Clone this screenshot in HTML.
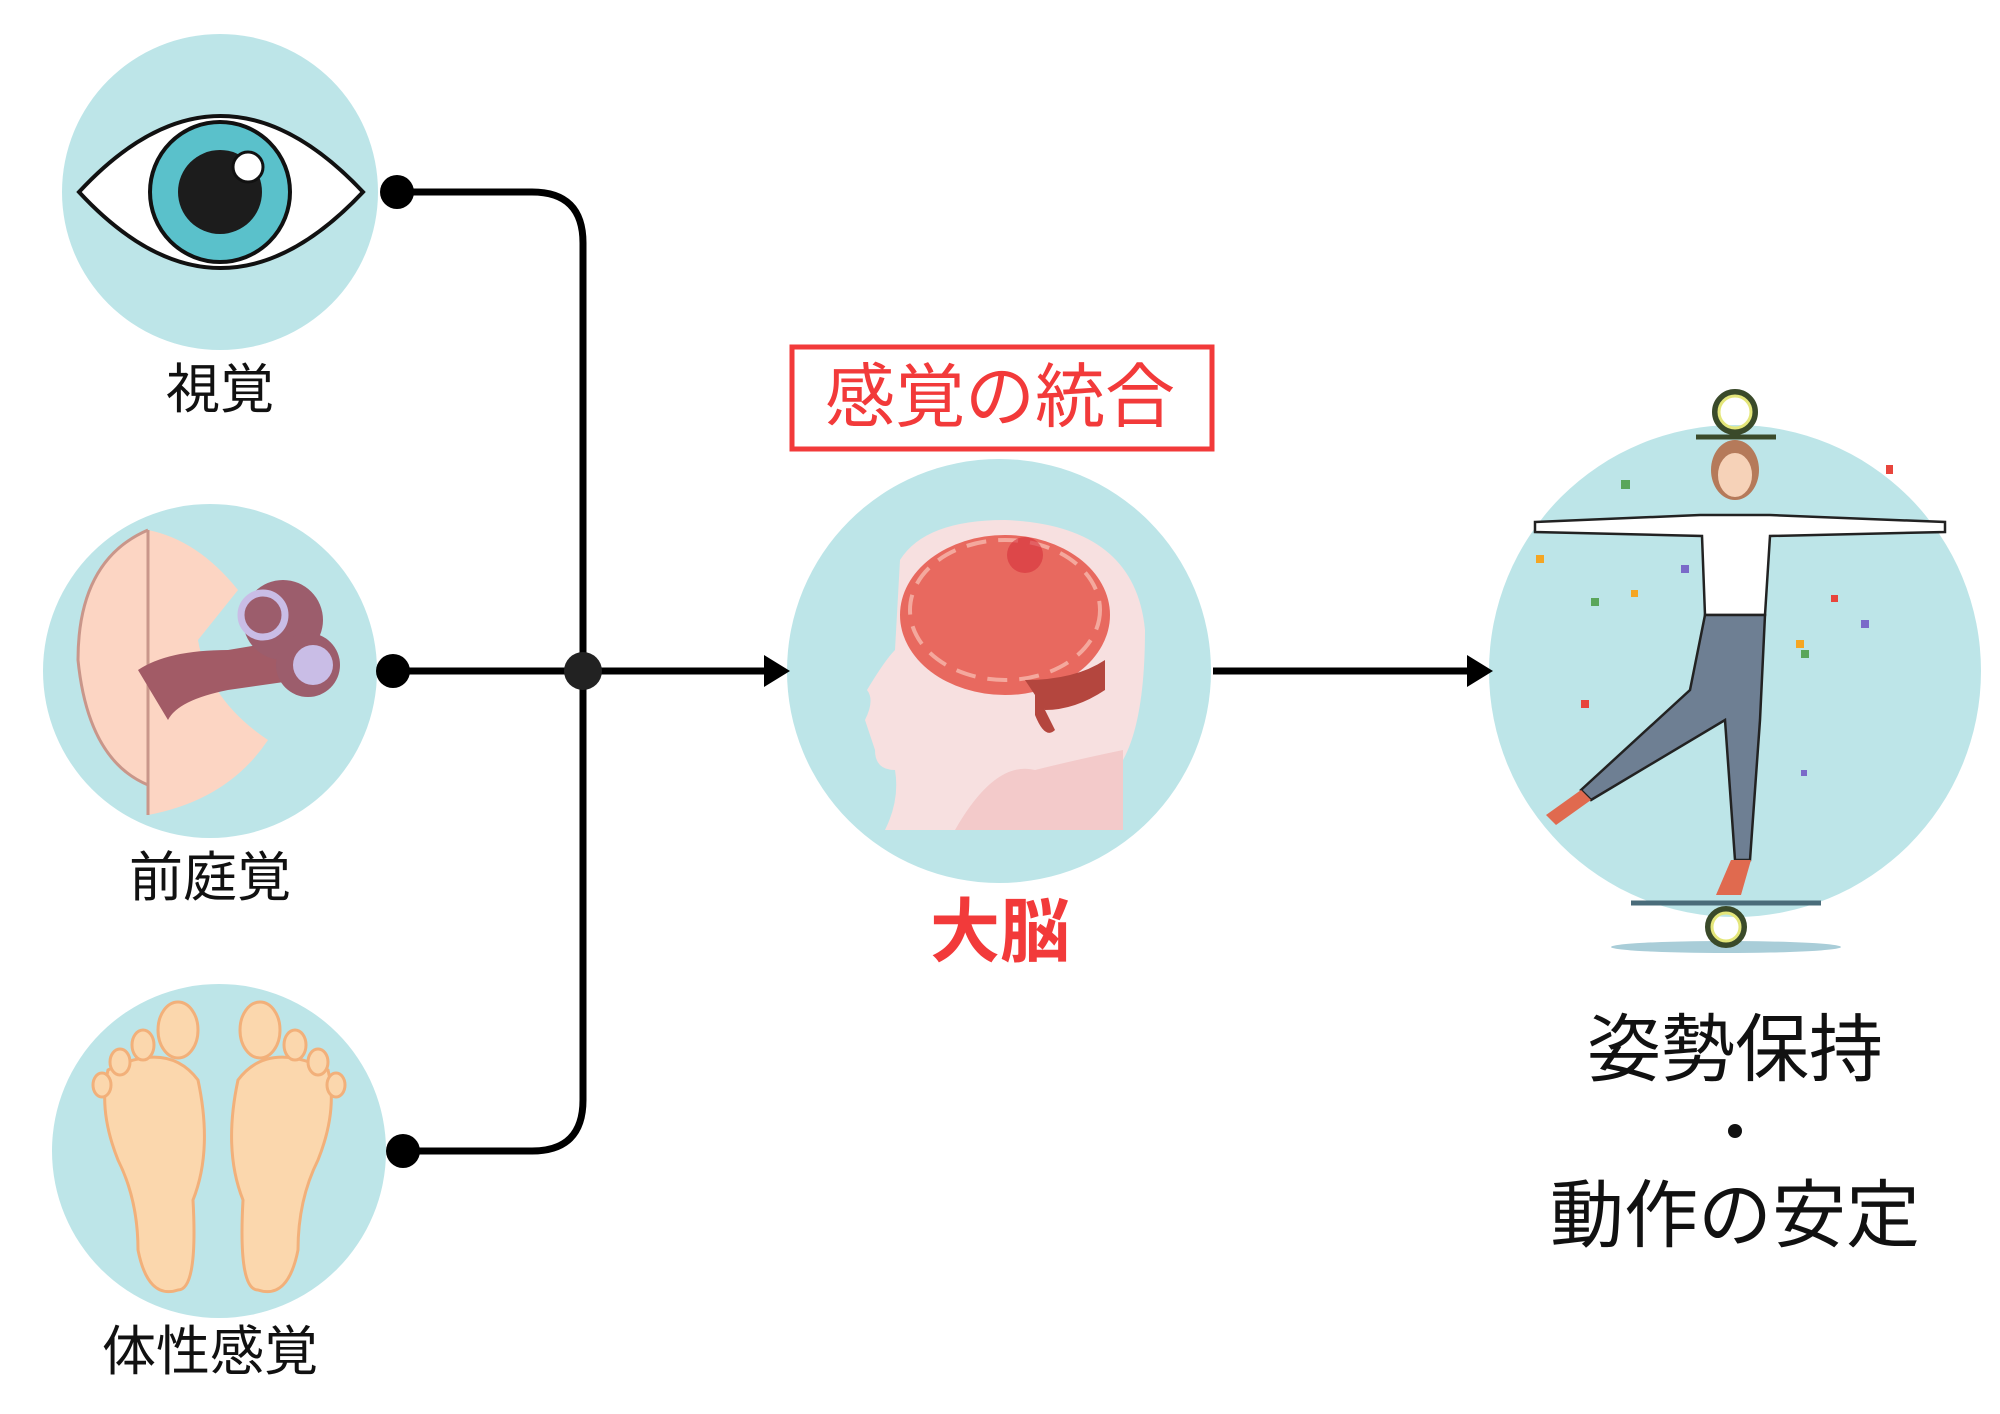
<!DOCTYPE html>
<html><head><meta charset="utf-8"><style>
html,body{margin:0;padding:0;background:#fff;}
svg{display:block}
text{font-family:"Liberation Sans","Noto Sans CJK JP",sans-serif;}
</style></head><body>
<svg width="2000" height="1414" viewBox="0 0 2000 1414" xmlns="http://www.w3.org/2000/svg">
<circle cx="220" cy="192" r="158" fill="#bde5e8"/>
<circle cx="210" cy="671" r="167" fill="#bde5e8"/>
<circle cx="219" cy="1151" r="167" fill="#bde5e8"/>
<circle cx="999" cy="671" r="212" fill="#bde5e8"/>
<circle cx="1735" cy="671" r="246" fill="#bde5e8"/>

<path d="M79,192 Q220,40 363,192 Q220,344 79,192 Z" fill="#fff" stroke="#111" stroke-width="4"/>
<circle cx="220" cy="192" r="70" fill="#5ac1cb" stroke="#111" stroke-width="4"/>
<circle cx="220" cy="192" r="42" fill="#1c1c1c"/>
<circle cx="248" cy="167" r="15" fill="#fff" stroke="#111" stroke-width="3"/>

<path d="M148,530 L148,815 Q228,800 268,740 Q208,700 198,640 L238,590 Q198,540 148,530 Z" fill="#fcd5c3"/>
<path d="M148,530 Q78,560 78,660 Q88,760 148,785" fill="#fcd5c3" stroke="#c9968a" stroke-width="3"/>
<path d="M148,530 L148,815" stroke="#c9968a" stroke-width="3"/>
<path d="M138,670 Q168,650 228,650 L288,640 L298,680 L228,690 Q178,700 168,720 Z" fill="#a25b66"/>
<circle cx="283" cy="620" r="40" fill="#9c5d6c"/>
<circle cx="308" cy="665" r="32" fill="#9c5d6c"/>
<circle cx="313" cy="665" r="20" fill="#c9bde6"/>
<circle cx="263" cy="615" r="22" fill="none" stroke="#c9bde6" stroke-width="7"/>

<g fill="#fbd7ad" stroke="#f2b07a" stroke-width="3">
<path d="M108,1070 Q168,1040 198,1080 Q213,1150 193,1200 Q198,1290 178,1290 Q148,1300 138,1250 Q138,1200 118,1160 Q98,1110 108,1070 Z"/>
<path d="M328,1070 Q268,1040 238,1080 Q223,1150 243,1200 Q238,1290 258,1290 Q288,1300 298,1250 Q298,1200 318,1160 Q338,1110 328,1070 Z"/>
<ellipse cx="178" cy="1030" rx="20" ry="28"/>
<ellipse cx="143" cy="1045" rx="11" ry="15"/>
<ellipse cx="120" cy="1062" rx="10" ry="13"/>
<ellipse cx="102" cy="1085" rx="9" ry="12"/>
<ellipse cx="260" cy="1030" rx="20" ry="28"/>
<ellipse cx="295" cy="1045" rx="11" ry="15"/>
<ellipse cx="318" cy="1062" rx="10" ry="13"/>
<ellipse cx="336" cy="1085" rx="9" ry="12"/>
</g>

<path d="M900,560 Q925,520 1005,520 Q1135,525 1145,630 Q1145,720 1123,760 L1123,830 L885,830 Q900,800 895,770 Q875,770 875,750 L865,720 Q875,700 867,690 Q885,660 895,650 Z" fill="#f7e0e0"/>
<path d="M955,830 Q995,760 1035,770 Q1075,760 1123,750 L1123,830 Z" fill="#f3caca"/>
<ellipse cx="1005" cy="615" rx="105" ry="80" fill="#e8695f"/>
<ellipse cx="1005" cy="610" rx="95" ry="70" fill="none" stroke="#f4a89d" stroke-width="4" stroke-dasharray="20 12"/>
<path d="M1025,680 Q1075,680 1105,660 L1105,690 Q1075,710 1045,710 Z" fill="#b4463e"/>
<path d="M1035,690 L1055,730 Q1045,740 1035,715 Z" fill="#b4463e"/>
<circle cx="1025" cy="555" r="18" fill="#d6303a" opacity="0.6"/>

<ellipse cx="1726" cy="947" rx="115" ry="6" fill="#a9cdd8"/>
<line x1="1631" y1="903" x2="1821" y2="903" stroke="#4a6c7a" stroke-width="5"/>
<circle cx="1726" cy="927" r="18" fill="none" stroke="#3a4a2a" stroke-width="6"/>
<circle cx="1726" cy="927" r="14" fill="none" stroke="#e4e67a" stroke-width="3"/>
<circle cx="1735" cy="412" r="20" fill="none" stroke="#3a4a2a" stroke-width="6"/>
<circle cx="1735" cy="412" r="16" fill="none" stroke="#e4e67a" stroke-width="3"/>
<line x1="1696" y1="437" x2="1776" y2="437" stroke="#3a4a2a" stroke-width="5"/>
<ellipse cx="1735" cy="470" rx="24" ry="30" fill="#b57a5a"/>
<ellipse cx="1735" cy="475" rx="17" ry="22" fill="#f6d2b8"/>
<path d="M1535,522 L1700,515 L1770,515 L1945,522 L1945,532 L1770,536 L1765,615 L1705,615 L1702,536 L1535,532 Z" fill="#fff" stroke="#222" stroke-width="2.5"/>
<path d="M1705,615 L1765,615 L1760,720 L1750,860 L1735,860 L1725,720 L1591,800 L1581,790 L1690,690 Z" fill="#6e7f93" stroke="#222" stroke-width="2.5"/>
<path d="M1581,790 L1546,815 L1556,825 L1591,800 Z" fill="#e06a4f"/>
<path d="M1731,860 L1716,895 L1741,895 L1751,860 Z" fill="#e06a4f"/>
<g fill="#f5a623"><rect x="1536" y="555" width="8" height="8"/><rect x="1796" y="640" width="8" height="8"/><rect x="1631" y="590" width="7" height="7"/></g>
<g fill="#e8453c"><rect x="1886" y="465" width="7" height="9"/><rect x="1581" y="700" width="8" height="8"/><rect x="1831" y="595" width="7" height="7"/></g>
<g fill="#5aa65b"><rect x="1621" y="480" width="9" height="9"/><rect x="1801" y="650" width="8" height="8"/><rect x="1591" y="598" width="8" height="8"/></g>
<g fill="#7a6ac9"><rect x="1681" y="565" width="8" height="8"/><rect x="1861" y="620" width="8" height="8"/><rect x="1801" y="770" width="6" height="6"/></g>

<g stroke="#000" stroke-width="7" fill="none">
<path d="M397,192 L532,192 Q583,192 583,243 L583,1100 Q583,1151 532,1151 L403,1151"/>
<line x1="393" y1="671" x2="770" y2="671"/>
<line x1="1213" y1="671" x2="1475" y2="671"/>
</g>
<path d="M764,655 L790,671 L764,687 Z" fill="#000"/>
<path d="M1467,655 L1493,671 L1467,687 Z" fill="#000"/>
<circle cx="397" cy="192" r="17" fill="#000"/>
<circle cx="393" cy="671" r="17" fill="#000"/>
<circle cx="403" cy="1151" r="17" fill="#000"/>
<circle cx="583" cy="671" r="19" fill="#222"/>

<g font-size="54" fill="#111" text-anchor="middle">
<text x="220" y="408">視覚</text>
<text x="210" y="896">前庭覚</text>
<text x="210" y="1370">体性感覚</text>
</g>
<rect x="792" y="347" width="420" height="102" fill="none" stroke="#f23a3a" stroke-width="5"/>
<text x="1000" y="421" font-size="70" fill="#f23a3a" text-anchor="middle">感覚の統合</text>
<text x="1000" y="956" font-size="70" font-weight="bold" fill="#f23a3a" text-anchor="middle">大脳</text>
<g font-size="74" fill="#111" text-anchor="middle">
<text x="1735" y="1075">姿勢保持</text>
<text x="1735" y="1241">動作の安定</text>
</g>
<circle cx="1735" cy="1131" r="7" fill="#111"/>
</svg>
</body></html>
